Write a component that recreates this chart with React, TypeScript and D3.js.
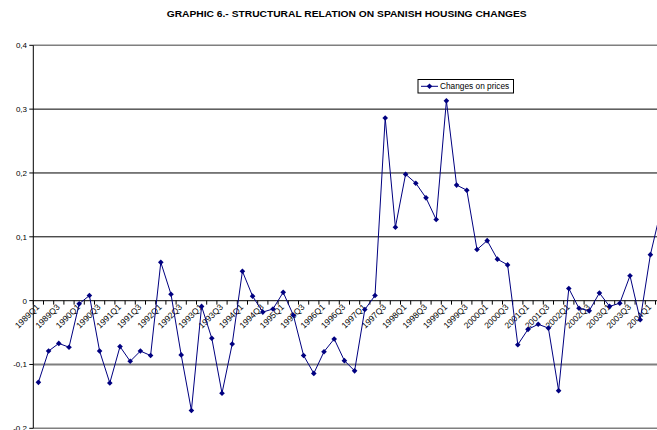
import React from "react";
import * as d3 from "d3";

const title = "GRAPHIC 6.- STRUCTURAL RELATION ON SPANISH HOUSING CHANGES";
const seriesName = "Changes on prices";

const categories = [
  "1989Q1","1989Q2","1989Q3","1989Q4","1990Q1","1990Q2","1990Q3","1990Q4",
  "1991Q1","1991Q2","1991Q3","1991Q4","1992Q1","1992Q2","1992Q3","1992Q4",
  "1993Q1","1993Q2","1993Q3","1993Q4","1994Q1","1994Q2","1994Q3","1994Q4",
  "1995Q1","1995Q2","1995Q3","1995Q4","1996Q1","1996Q2","1996Q3","1996Q4",
  "1997Q1","1997Q2","1997Q3","1997Q4","1998Q1","1998Q2","1998Q3","1998Q4",
  "1999Q1","1999Q2","1999Q3","1999Q4","2000Q1","2000Q2","2000Q3","2000Q4",
  "2001Q1","2001Q2","2001Q3","2001Q4","2002Q1","2002Q2","2002Q3","2002Q4",
  "2003Q1","2003Q2","2003Q3","2003Q4","2004Q1","2004Q2",
];

const values = [
  -0.128, -0.079, -0.067, -0.073, -0.005, 0.008, -0.079, -0.129,
  -0.072, -0.095, -0.079, -0.086, 0.060, 0.010, -0.085, -0.172,
  -0.009, -0.059, -0.145, -0.068, 0.046, 0.007, -0.018, -0.013,
  0.013, -0.023, -0.086, -0.114, -0.080, -0.060, -0.094, -0.110,
  -0.014, 0.008, 0.286, 0.115, 0.198, 0.184, 0.161, 0.127,
  0.313, 0.181, 0.173, 0.080, 0.094, 0.065, 0.056, -0.069,
  -0.045, -0.037, -0.043, -0.141, 0.019, -0.012, -0.016, 0.012,
  -0.009, -0.004, 0.039, -0.030, 0.072, 0.140,
];

const yTicks = [-0.2, -0.1, 0, 0.1, 0.2, 0.3, 0.4];
const yTickLabels = ["-0,2", "-0,1", "0", "0,1", "0,2", "0,3", "0,4"];

const W = 657;
const H = 430;
const left = 33.3;
const band = 10.2;
const top = 45.3;
const bottom = 428.3;
const font = "'Liberation Sans', Arial, sans-serif";
const navy = "#000080";

export default function App() {
  const x = d3
    .scaleBand<string>()
    .domain(categories)
    .range([left, left + categories.length * band])
    .padding(0);
  const y = d3.scaleLinear().domain([-0.2, 0.4]).range([bottom, top]);
  const cx = (c: string) => (x(c) as number) + x.bandwidth() / 2;
  const line = d3
    .line<number>()
    .x((_, i) => cx(categories[i]))
    .y((d) => y(d));
  const right = left + categories.length * band;
  const diamond = "M0,-2.8L2.8,0L0,2.8L-2.8,0Z";
  const gridStyle = (v: number) => {
    if (v === 0.4 || v === -0.2) return { stroke: "#7f7f7f", width: 1.5 };
    if (v === -0.1) return { stroke: "#7f7f7f", width: 2 };
    if (v === 0) return { stroke: "#333", width: 1.2 };
    return { stroke: "#000", width: 1 };
  };

  return (
    <svg
      width={W}
      height={H}
      style={{ position: "absolute", left: 0, top: 0, background: "#fff" }}
      fontFamily={font}
    >
      <rect x={0} y={0} width={W} height={H} fill="#fff" />
      <text
        x={166.7}
        y={17.3}
        fontSize={8.6}
        fontWeight="bold"
        textLength={360}
        lengthAdjust="spacingAndGlyphs"
      >
        {title}
      </text>
      {yTicks.map((v, i) => {
        const s = gridStyle(v);
        return (
          <g key={v}>
            <line x1={left} x2={right} y1={y(v)} y2={y(v)} stroke={s.stroke} strokeWidth={s.width} />
            <line x1={left - 4} x2={left} y1={y(v)} y2={y(v)} stroke="#000" strokeWidth={1} />
            <text x={27} y={y(v) + 3} textAnchor="end" fontSize={8}>
              {yTickLabels[i]}
            </text>
          </g>
        );
      })}
      <line x1={left} x2={left} y1={top} y2={bottom} stroke="#000" strokeWidth={1} />
      {categories.map((c) => (
        <line
          key={"t" + c}
          x1={x(c) as number}
          x2={x(c) as number}
          y1={y(0)}
          y2={y(0) + 4}
          stroke="#000"
          strokeWidth={1}
        />
      ))}
      {categories.map((c, i) =>
        i % 2 === 0 ? (
          <text
            key={"l" + c}
            transform={`translate(${cx(c) + 1.5},${y(0) + 7}) rotate(-45)`}
            textAnchor="end"
            fontSize={8.5}
          >
            {c}
          </text>
        ) : null
      )}
      <path d={line(values) || ""} fill="none" stroke={navy} strokeWidth={1} />
      {values.map((v, i) => (
        <path key={"m" + i} d={diamond} transform={`translate(${cx(categories[i])},${y(v)})`} fill={navy} />
      ))}
      <g>
        <rect x={418} y={79.5} width={95.5} height={13.5} fill="#fff" stroke="#000" strokeWidth={1} />
        <line x1={421} x2={438} y1={86.3} y2={86.3} stroke={navy} strokeWidth={1} />
        <path d={diamond} transform="translate(429.5,86.3)" fill={navy} />
        <text x={440} y={89.3} fontSize={8.3}>
          {seriesName}
        </text>
      </g>
    </svg>
  );
}
